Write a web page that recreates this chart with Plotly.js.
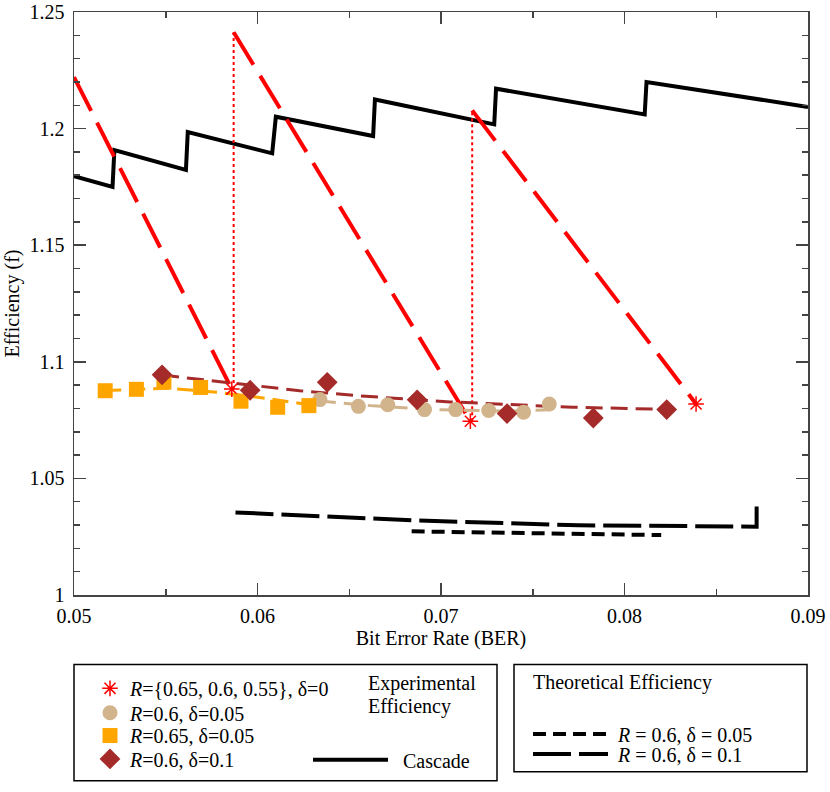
<!DOCTYPE html>
<html>
<head>
<meta charset="utf-8">
<script src="https://cdn.plot.ly/plotly-3.0.1.min.js"></script>
<style>
  body { margin: 0; background: #fff; }
  #chart { width: 830px; height: 792px; }
</style>
</head>
<body>
<div id="chart"></div>
<script>
// Cascade efficiency (sawtooth)
const cascadeBer = [0.0500, 0.0521, 0.0522, 0.0561, 0.0562, 0.0608, 0.0610, 0.0663, 0.0664, 0.0729, 0.0730, 0.0811, 0.0812, 0.0855, 0.0900];
const cascadeEff = [1.1796, 1.1750, 1.1908, 1.1823, 1.1985, 1.1894, 1.2051, 1.1968, 1.2125, 1.2018, 1.2171, 1.2061, 1.2200, 1.2146, 1.2093];

// delta = 0, three rates
const zeroSeg1Ber = [0.0500, 0.0586];
const zeroSeg1Eff = [1.2221, 1.0883];
const zeroSeg2Ber = [0.0587, 0.0716];
const zeroSeg2Eff = [1.2413, 1.0745];
const zeroSeg3Ber = [0.0717, 0.0839];
const zeroSeg3Eff = [1.2078, 1.0819];
const zeroJump1Ber = [0.0587, 0.0587];
const zeroJump1Eff = [1.0883, 1.2413];
const zeroJump2Ber = [0.0717, 0.0717];
const zeroJump2Eff = [1.0745, 1.2078];
const zeroPtsBer = [0.0586, 0.0716, 0.0839];
const zeroPtsEff = [1.0883, 1.0745, 1.0819];

// R=0.6, delta=0.05
const r60d05Ber = [0.0634, 0.0655, 0.0671, 0.0691, 0.0708, 0.0726, 0.0745, 0.0759];
const r60d05Eff = [1.0838, 1.0809, 1.0816, 1.0795, 1.0795, 1.0791, 1.0784, 1.0819];
const r60d05FitBer = [0.0634, 0.0663, 0.0699, 0.0737, 0.0759];
const r60d05FitEff = [1.0832, 1.0811, 1.0794, 1.0789, 1.0794];

// R=0.65, delta=0.05
const r65d05Ber = [0.0517, 0.0534, 0.0549, 0.0569, 0.0591, 0.0611, 0.0628];
const r65d05Eff = [1.0876, 1.0882, 1.0913, 1.0890, 1.0831, 1.0805, 1.0812];
const r65d05FitBer = [0.0517, 0.0551, 0.0578, 0.0603, 0.0628];
const r65d05FitEff = [1.0877, 1.0887, 1.0869, 1.0845, 1.0816];

// R=0.6, delta=0.1
const r60d10Ber = [0.0548, 0.0596, 0.0638, 0.0687, 0.0736, 0.0783, 0.0823];
const r60d10Eff = [1.0944, 1.0878, 1.0912, 1.0837, 1.0778, 1.0759, 1.0795];
const r60d10FitBer = [0.0548, 0.0585, 0.0623, 0.0659, 0.0705, 0.0772, 0.0823];
const r60d10FitEff = [1.0943, 1.0909, 1.0876, 1.0852, 1.0828, 1.0805, 1.0796];

// theoretical efficiency
const theo05Ber = [0.0684, 0.0775, 0.0820];
const theo05Eff = [1.0273, 1.0262, 1.0257];
const theo10Ber = [0.0588, 0.0634, 0.0688, 0.0775, 0.0861, 0.0872, 0.0872];
const theo10Eff = [1.0354, 1.0336, 1.0319, 1.0299, 1.0293, 1.0293, 1.0380];

const serif = 'Liberation Serif';
const red = '#ff0000';
const tan = '#d2b48c';
const orange = '#ffa500';
const brown = '#a52a2a';

function line(x, y, color, width, dash, extra) {
    return Object.assign({
        x: x, y: y, type: 'scatter', mode: 'lines',
        line: { color: color, width: width, dash: dash },
        showlegend: false, hoverinfo: 'skip'
    }, extra || {});
}

function points(x, y, name, legend, marker) {
    return { x: x, y: y, type: 'scatter', mode: 'markers', name: name, legend: legend, marker: marker, hoverinfo: 'skip' };
}

const data = [
    line(cascadeBer, cascadeEff, 'black', 4, 'solid', { showlegend: true, name: '\u2002Cascade', legend: 'legend2' }),
    line(zeroSeg1Ber, zeroSeg1Eff, red, 4, '38px,13px'),
    line(zeroSeg2Ber, zeroSeg2Eff, red, 4, '38px,13px'),
    line(zeroSeg3Ber, zeroSeg3Eff, red, 4, '38px,13px'),
    line(zeroJump1Ber, zeroJump1Eff, red, 2, '3px,3px'),
    line(zeroJump2Ber, zeroJump2Eff, red, 2, '3px,3px'),
    line(r65d05FitBer, r65d05FitEff, orange, 3, '16px,8px'),
    line(r60d05FitBer, r60d05FitEff, tan, 3, '16px,8px'),
    line(r60d10FitBer, r60d10FitEff, brown, 3, '17px,8px'),
    line(theo05Ber, theo05Eff, 'black', 4, '13px,7px', { showlegend: true, name: '\u2005<i>R</i> = 0.6, δ = 0.05', legend: 'legend3' }),
    line(theo10Ber, theo10Eff, 'black', 4, '38px,8px', { showlegend: true, name: '\u2005<i>R</i> = 0.6, δ = 0.1', legend: 'legend4' }),
    points(zeroPtsBer, zeroPtsEff, '<i>R</i>={0.65, 0.6, 0.55}, δ=0', 'legend',
        { symbol: 'asterisk-open', size: 13, line: { color: red, width: 1.5 }, color: red }),
    points(r60d05Ber, r60d05Eff, '<i>R</i>=0.6, δ=0.05', 'legend5', { symbol: 'circle', size: 15, color: tan }),
    points(r65d05Ber, r65d05Eff, '<i>R</i>=0.65, δ=0.05', 'legend6', { symbol: 'square', size: 15, color: orange }),
    points(r60d10Ber, r60d10Eff, '<i>R</i>=0.6, δ=0.1', 'legend7', { symbol: 'diamond', size: 16, color: brown })
];

// paper coords helpers for the area below the plot (plot spans 74..808 x 12..599)
const px = v => (v - 74) / 734;
const py = v => (599 - v) / 587;

const legendFont = { family: serif, size: 20, color: 'black' };
function legendAt(x, y, extra) {
    return Object.assign({
        x: px(x), y: py(y), xanchor: 'left', yanchor: 'middle', orientation: 'v',
        bgcolor: 'rgba(0,0,0,0)', borderwidth: 0, font: legendFont
    }, extra || {});
}

function note(text, x, y) {
    return { xref: 'paper', yref: 'paper', x: px(x), y: py(y), xanchor: 'left', yanchor: 'middle', align: 'left',
             showarrow: false, text: text, font: legendFont, borderpad: 0 };
}

const axisCommon = {
    showgrid: false, zeroline: false,
    showline: true, linecolor: '#444', linewidth: 1.5, mirror: 'allticks',
    ticks: 'inside', ticklen: 12, tickcolor: '#444', tickwidth: 1.5,
    tickfont: { family: serif, size: 20 }
};

const layout = {
    width: 830, height: 792,
    margin: { l: 74, r: 22, t: 12, b: 193 },
    paper_bgcolor: 'white', plot_bgcolor: 'white',
    font: { family: serif, size: 20, color: 'black' },
    xaxis: Object.assign({}, axisCommon, {
        range: [0.05, 0.09], dtick: 0.01, tick0: 0.05, ticklabelstandoff: 2,
        minor: { dtick: 0.005, ticks: 'inside', ticklen: 6, tickcolor: '#444', tickwidth: 1.5, showgrid: false },
        title: { text: 'Bit Error Rate (BER)', font: { family: serif, size: 20 }, standoff: 3 }
    }),
    yaxis: Object.assign({}, axisCommon, {
        range: [1, 1.25], dtick: 0.05, tick0: 1, ticklabelstandoff: 4,
        minor: { dtick: 0.01, ticks: 'inside', ticklen: 6, tickcolor: '#444', tickwidth: 1.5, showgrid: false },
        title: { text: 'Efficiency (f)', font: { family: serif, size: 20 }, standoff: 4 }
    }),
    legend: legendAt(90, 693),
    legend5: legendAt(90, 717.5),
    legend6: legendAt(90, 740.5),
    legend7: legendAt(90, 764),
    legend2: legendAt(308, 765, { itemwidth: 75 }),
    legend3: legendAt(528, 739, { itemwidth: 75 }),
    legend4: legendAt(528, 759, { itemwidth: 75 }),
    shapes: [
        { type: 'rect', xref: 'paper', yref: 'paper', x0: px(74), x1: px(497), y0: py(669), y1: py(786), line: { color: 'black', width: 1.5 } },
        { type: 'rect', xref: 'paper', yref: 'paper', x0: px(514), x1: px(807), y0: py(669), y1: py(777), line: { color: 'black', width: 1.5 } }
    ],
    annotations: [
        note('Experimental', 367, 688),
        note('Efficiency', 367, 711),
        note('Theoretical Efficiency', 532, 687)
    ]
};

Plotly.newPlot('chart', data, layout, { displayModeBar: false, staticPlot: true });
</script>
</body>
</html>
